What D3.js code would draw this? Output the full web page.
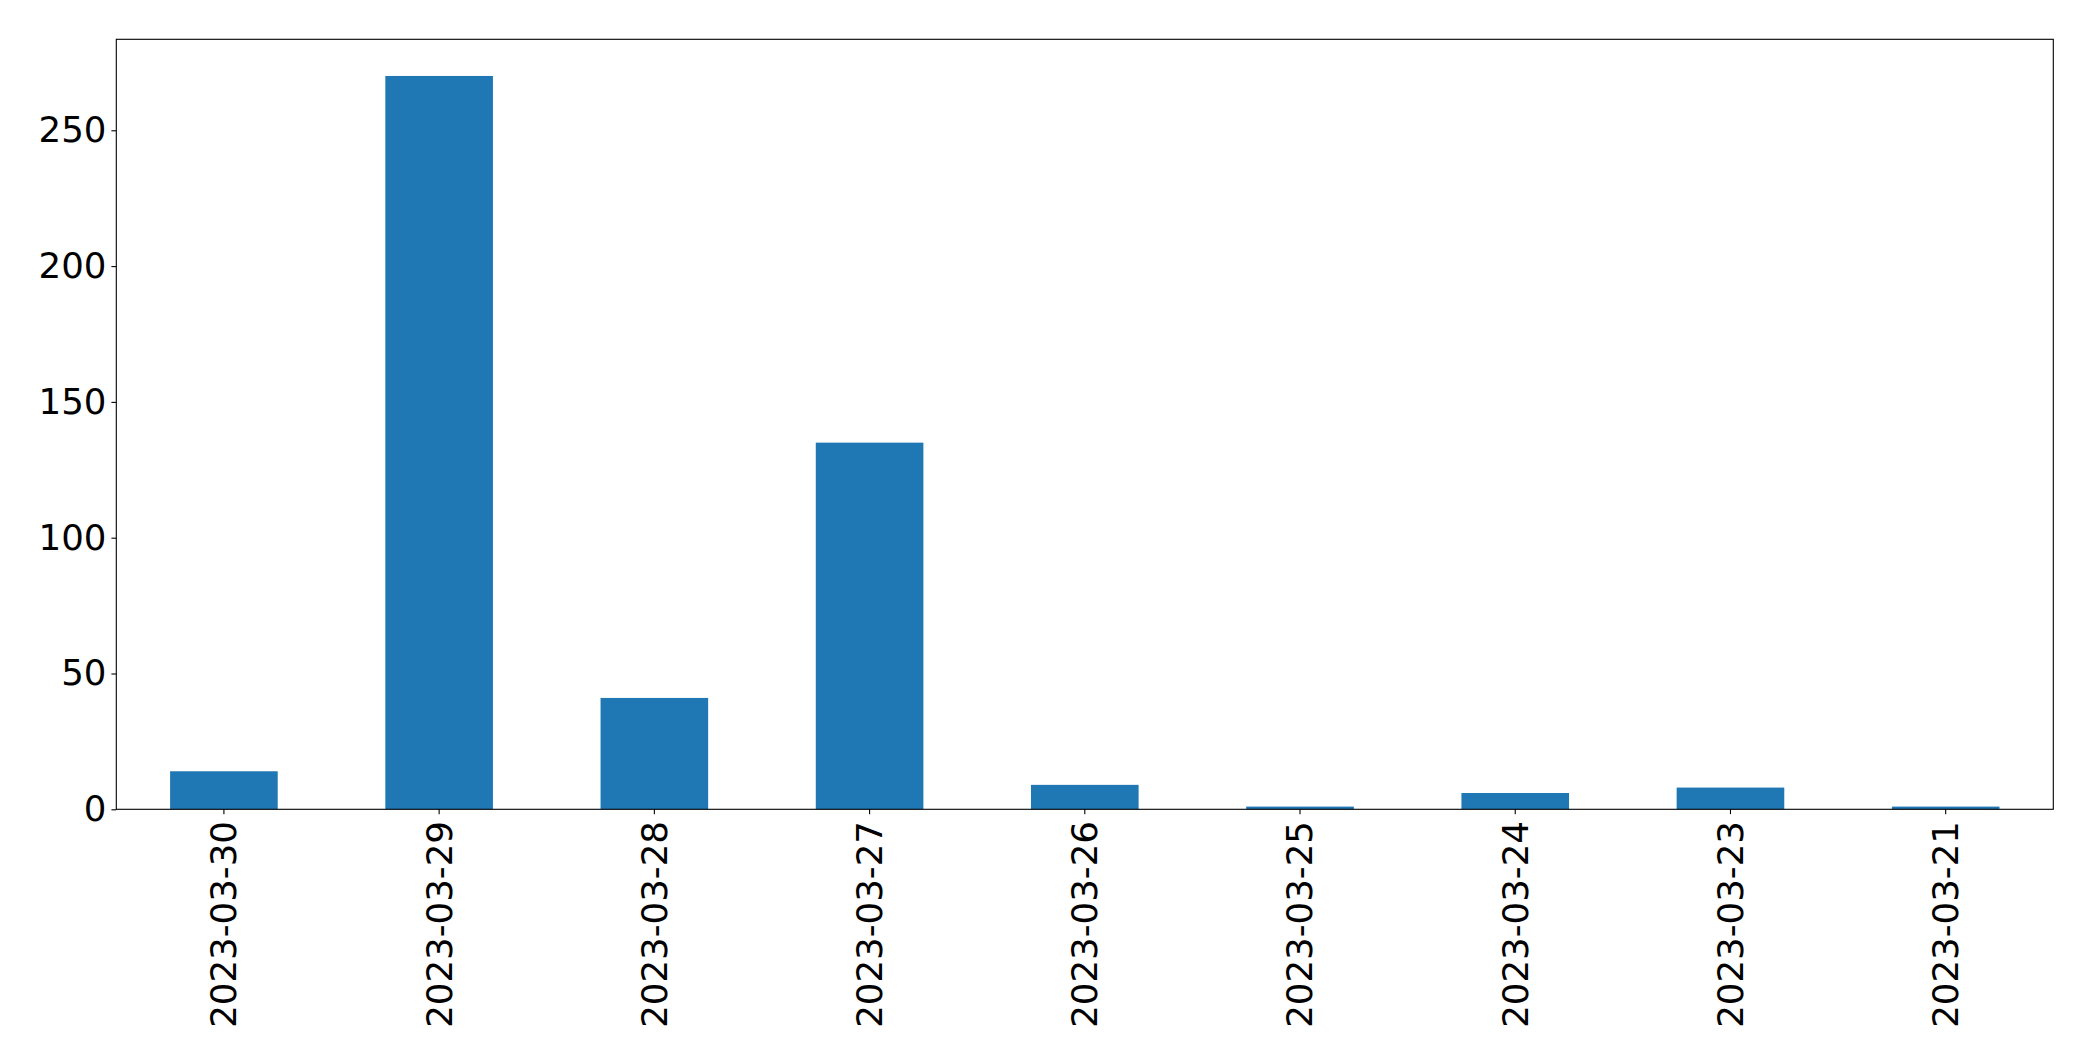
<!DOCTYPE html>
<html>
<head>
<meta charset="utf-8">
<script src="https://cdn.jsdelivr.net/npm/d3@7"></script>
<style>
  html, body { margin: 0; padding: 0; background: #fff; }
  svg { display: block; }
  text { font-family: "DejaVu Sans", sans-serif; fill: #000; }
</style>
</head>
<body>
<svg id="chart" width="2093" height="1061"></svg>
<script>
const categories = ["2023-03-30", "2023-03-29", "2023-03-28", "2023-03-27", "2023-03-26", "2023-03-25", "2023-03-24", "2023-03-23", "2023-03-21"];
const values = [14, 270, 41, 135, 9, 1, 6, 8, 1];
const yTicks = [0, 50, 100, 150, 200, 250];

(function () {
const mLeft = 116.3, mRight = 2053.3, mTop = 39.3, mBottom = 809.3;
const fontSize = 35.6;
const tickLen = 4.9, pad = 4.9;

const svg = d3.select("#chart");

const x = d3.scaleBand()
  .domain(categories)
  .range([mLeft, mRight])
  .paddingInner(0.5)
  .paddingOuter(0.25);

const y = d3.scaleLinear()
  .domain([0, d3.max(values) * 1.05])
  .range([mBottom, mTop]);

// bars
svg.append("g")
  .selectAll("rect")
  .data(categories)
  .join("rect")
  .attr("x", d => x(d))
  .attr("width", x.bandwidth())
  .attr("y", (d, i) => y(values[i]))
  .attr("height", (d, i) => y(0) - y(values[i]))
  .attr("fill", "#1f77b4");

// y axis
const yAxis = svg.append("g")
  .attr("transform", `translate(${mLeft},0)`)
  .call(d3.axisLeft(y).tickValues(yTicks).tickSize(tickLen).tickPadding(pad).tickFormat(d3.format("d")));
yAxis.select(".domain").remove();
yAxis.selectAll(".tick line").attr("stroke", "#000").attr("stroke-width", 1.1);
yAxis.selectAll(".tick text")
  .style("font-size", fontSize + "px")
  .style("font-family", "DejaVu Sans, sans-serif")
  .attr("fill", "#000");

// x axis
const xAxis = svg.append("g")
  .attr("transform", `translate(0,${mBottom})`)
  .call(d3.axisBottom(x).tickSize(tickLen).tickPadding(pad));
xAxis.select(".domain").remove();
xAxis.selectAll(".tick line").attr("stroke", "#000").attr("stroke-width", 1.1);
xAxis.selectAll(".tick text")
  .style("font-size", fontSize + "px")
  .style("font-family", "DejaVu Sans, sans-serif")
  .attr("fill", "#000")
  .attr("transform", `translate(0,${tickLen + pad + 2}) rotate(-90)`)
  .attr("x", 0)
  .attr("y", 0)
  .attr("dy", "0.35em")
  .attr("text-anchor", "end");

// frame (spines)
svg.append("rect")
  .attr("x", mLeft)
  .attr("y", mTop)
  .attr("width", mRight - mLeft)
  .attr("height", mBottom - mTop)
  .attr("fill", "none")
  .attr("stroke", "#000")
  .attr("stroke-width", 1.1);
})();
</script>
</body>
</html>
